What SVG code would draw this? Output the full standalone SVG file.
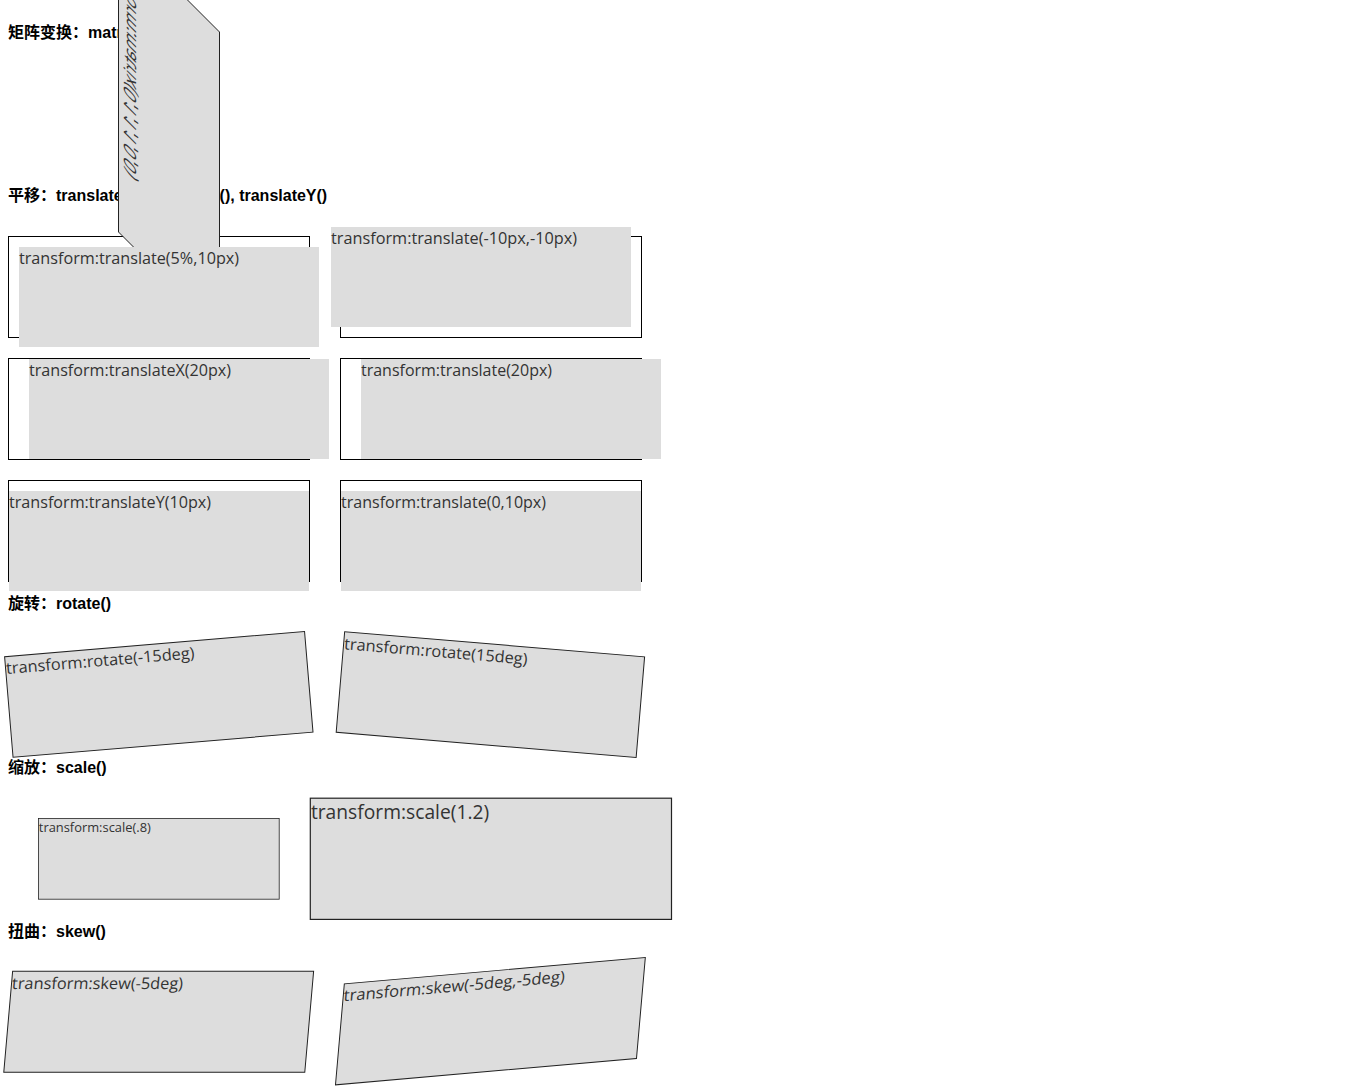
<svg xmlns="http://www.w3.org/2000/svg" width="1349" height="1087" viewBox="0 0 1349 1087">
  <style>
    .h { font-family: "Liberation Sans", "Noto Sans CJK SC", sans-serif; font-weight: bold; font-size: 16px; fill: #000; }
    .frame { fill: none; stroke: #000; stroke-width: 1; }
    .pane { fill: #ddd; }
    .card { fill: #ddd; stroke: #222; stroke-width: 1; }
    .lbl { font-family: "Open Sans", "Noto Sans", sans-serif; font-size: 16px; fill: #333; }
  </style>
  <rect width="1349" height="1087" fill="#fff"/>

  <!-- section headings -->
  <g id="headings">
    <text class="h" x="8" y="38">矩阵变换：matrix()</text>
    <text class="h" x="8" y="201">平移：translate(), translateX(), translateY()</text>
    <text class="h" x="8" y="609">旋转：rotate()</text>
    <text class="h" x="8" y="773">缩放：scale()</text>
    <text class="h" x="8" y="937">扭曲：skew()</text>
  </g>

  <!-- untransformed outlines that hold the translated panes -->
  <g id="frames">
    <rect class="frame" x="8.5" y="236.5" width="301" height="101"/>
    <rect class="frame" x="340.5" y="236.5" width="301" height="101"/>
    <rect class="frame" x="8.5" y="358.5" width="301" height="101"/>
    <rect class="frame" x="340.5" y="358.5" width="301" height="101"/>
    <rect class="frame" x="8.5" y="480.5" width="301" height="101"/>
    <rect class="frame" x="340.5" y="480.5" width="301" height="101"/>
  </g>

  <!-- matrix(0,1,1,1,0,0) box -->
  <g id="box-matrix" transform="matrix(0,1,1,1,118,-70)">
    <rect class="card" x="0.5" y="0.5" width="301" height="101"/>
    <text class="lbl" x="6" y="18" style="font-size:17px" textLength="228" lengthAdjust="spacingAndGlyphs">transform:matrix(0,1,1,1,0,0)</text>
  </g>

  <!-- translated panes -->
  <g id="pane-translate-5pct">
    <rect class="pane" x="19" y="247" width="300" height="100"/>
    <text class="lbl" x="19" y="264" textLength="220" lengthAdjust="spacingAndGlyphs">transform:translate(5%,10px)</text>
  </g>
  <g id="pane-translate-neg10">
    <rect class="pane" x="331" y="227" width="300" height="100"/>
    <text class="lbl" x="331" y="244" textLength="246" lengthAdjust="spacingAndGlyphs">transform:translate(-10px,-10px)</text>
  </g>
  <g id="pane-translateX">
    <rect class="pane" x="29" y="359" width="300" height="100"/>
    <text class="lbl" x="29" y="376" textLength="202" lengthAdjust="spacingAndGlyphs">transform:translateX(20px)</text>
  </g>
  <g id="pane-translate-20">
    <rect class="pane" x="361" y="359" width="300" height="100"/>
    <text class="lbl" x="361" y="376" textLength="191" lengthAdjust="spacingAndGlyphs">transform:translate(20px)</text>
  </g>
  <g id="pane-translateY">
    <rect class="pane" x="9" y="491" width="300" height="100"/>
    <text class="lbl" x="9" y="508" textLength="202" lengthAdjust="spacingAndGlyphs">transform:translateY(10px)</text>
  </g>
  <g id="pane-translate-0-10">
    <rect class="pane" x="341" y="491" width="300" height="100"/>
    <text class="lbl" x="341" y="508" textLength="205" lengthAdjust="spacingAndGlyphs">transform:translate(0,10px)</text>
  </g>

  <!-- rotated boxes -->
  <g id="box-rotate-neg" transform="translate(158.8,694.4) rotate(-4.8)">
    <rect class="card" x="-150.5" y="-50.5" width="301" height="101"/>
    <text class="lbl" x="-150" y="-33" textLength="189" lengthAdjust="spacingAndGlyphs">transform:rotate(-15deg)</text>
  </g>
  <g id="box-rotate-pos" transform="translate(490.4,694.6) rotate(4.8)">
    <rect class="card" x="-150.5" y="-50.5" width="301" height="101"/>
    <text class="lbl" x="-150" y="-33" textLength="184" lengthAdjust="spacingAndGlyphs">transform:rotate(15deg)</text>
  </g>

  <!-- scaled boxes -->
  <g id="box-scale-down" transform="translate(158.8,858.8) scale(0.8)">
    <rect class="card" x="-150.5" y="-50.5" width="301" height="101"/>
    <text class="lbl" x="-150" y="-33" textLength="140" lengthAdjust="spacingAndGlyphs">transform:scale(.8)</text>
  </g>
  <g id="box-scale-up" transform="translate(490.9,858.8) scale(1.2)">
    <rect class="card" x="-150.5" y="-50.5" width="301" height="101"/>
    <text class="lbl" x="-150" y="-33" textLength="148.5" lengthAdjust="spacingAndGlyphs">transform:scale(1.2)</text>
  </g>

  <!-- skewed boxes -->
  <g id="box-skew-x" transform="translate(158.7,1021.7) skewX(-5)">
    <rect class="card" x="-150.5" y="-50.5" width="301" height="101"/>
    <text class="lbl" x="-150" y="-33" textLength="171" lengthAdjust="spacingAndGlyphs">transform:skew(-5deg)</text>
  </g>
  <g id="box-skew-xy" transform="translate(490.4,1021.2) matrix(1,-0.0875,-0.0875,1,0,0)">
    <rect class="card" x="-150.5" y="-50.5" width="301" height="101"/>
    <text class="lbl" x="-150" y="-33" textLength="221" lengthAdjust="spacingAndGlyphs">transform:skew(-5deg,-5deg)</text>
  </g>
</svg>
